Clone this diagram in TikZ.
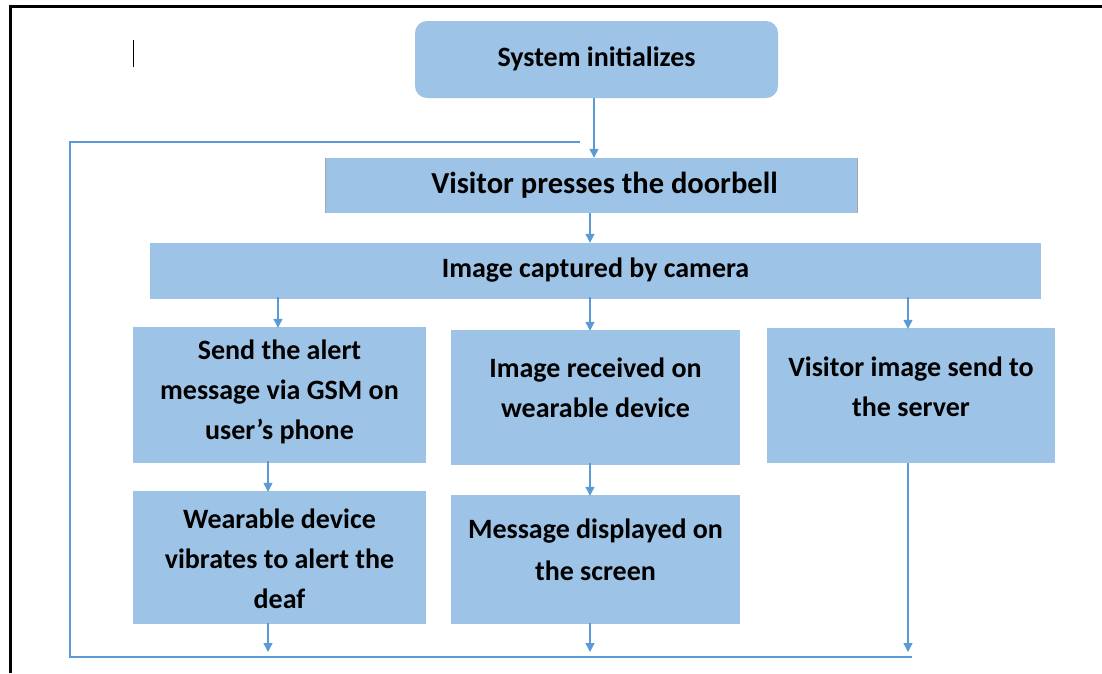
\documentclass[tikz,border=0pt]{standalone}
\usepackage{fontspec}
\setmainfont{Carlito}
\usetikzlibrary{arrows.meta}
\definecolor{boxblue}{RGB}{157,195,230}
\definecolor{lineblue}{RGB}{91,155,213}
\tikzset{
  box/.style={fill=boxblue, draw=none, inner sep=0pt},
  every label/.style={font=\bfseries\fontsize{28}{40}\selectfont, align=center, inner sep=0pt},
  arr/.style={draw=lineblue, line width=1.3pt, -{Triangle[length=9pt,width=9pt]}},
  loopline/.style={draw=lineblue, line width=1.3pt}
}
\begin{document}
\begin{tikzpicture}[x=1pt,y=-1pt]
\useasboundingbox (0,0) rectangle (1102,673);
% frame
\draw[line width=3pt] (10,673) -- (10,6) -- (1102,6);
\draw[line width=1pt] (133,40) -- (133,67);
% boxes
\node[box, rounded corners=12pt, minimum width=363pt, minimum height=77pt, label={[yshift=1pt]center:System initializes}] (sys) at (596.5,59.5) {};
\node[box, minimum width=531pt, minimum height=55pt, label={[xshift=13pt,font=\bfseries\fontsize{30.5}{40}\selectfont]center:Visitor presses the doorbell}] (visitor) at (591.5,185.5) {};
\node[box, minimum width=891pt, minimum height=56pt, label={[yshift=1pt]center:Image captured by camera}] (capture) at (595.5,271) {};
\node[box, minimum width=293pt, minimum height=136pt, label={[yshift=3pt]center:Send the alert\\message via GSM on\\user’s phone}] (alert) at (279.5,395) {};
\node[box, minimum width=289pt, minimum height=135pt, label={[yshift=9.5pt]center:Image received on\\wearable device}] (received) at (595.5,397.5) {};
\node[box, minimum width=288pt, minimum height=135pt, label={[yshift=9pt]center:Visitor image send to\\the server}] (server) at (911,395.5) {};
\node[box, minimum width=293pt, minimum height=133pt, label={[yshift=-1.5pt]center:Wearable device\\vibrates to alert the\\deaf}] (wearable) at (279.5,557.5) {};
\node[box, minimum width=289pt, minimum height=129pt, label={[yshift=9.5pt,font=\bfseries\fontsize{28}{42}\selectfont]center:Message displayed on\\the screen}] (message) at (595.5,559.5) {};
% shadow edges of visitor box
\draw[gray!70, line width=1pt] (visitor.north west) -- (visitor.south west);
\draw[gray!70, line width=1pt] (visitor.north east) -- (visitor.south east);
% loop coordinates
\coordinate (loopTR) at (580,142);
\coordinate (loopTL) at (70,142);
\coordinate (loopBL) at (70,657);
\coordinate (loopBR) at (912,657);
\coordinate (endline) at (0,652);
% arrows
\draw[arr] ([xshift=-2.5pt]sys.south) -- ([xshift=-2.5pt]sys.south |- visitor.north);
\draw[arr] ([xshift=-1.5pt]visitor.south) -- ([xshift=-1.5pt]visitor.south |- capture.north);
\draw[arr] ([xshift=-1.5pt,yshift=2pt]alert.north |- capture.south) -- ([xshift=-1.5pt,yshift=-1pt]alert.north);
\draw[arr] ([xshift=-5.5pt,yshift=2pt]received.north |- capture.south) -- ([xshift=-5.5pt,yshift=-1pt]received.north);
\draw[arr] ([xshift=-3pt,yshift=2pt]server.north |- capture.south) -- ([xshift=-3pt,yshift=-1pt]server.north);
\draw[arr] ([xshift=-11.5pt,yshift=2pt]alert.south) -- ([xshift=-11.5pt,yshift=-1pt]wearable.north);
\draw[arr] ([xshift=-5.5pt,yshift=2pt]received.south) -- ([xshift=-5.5pt,yshift=-1pt]message.north);
\draw[arr] ([xshift=-11.5pt,yshift=1pt]wearable.south) -- ([xshift=-11.5pt]wearable.south |- endline);
\draw[arr] ([xshift=-5.5pt,yshift=1pt]message.south) -- ([xshift=-5.5pt]message.south |- endline);
\draw[arr] ([xshift=-3pt]server.south) -- ([xshift=-3pt]server.south |- endline);
\draw[loopline] (loopBR) -- (loopBL) -- (loopTL) -- (loopTR);
\end{tikzpicture}
\end{document}
